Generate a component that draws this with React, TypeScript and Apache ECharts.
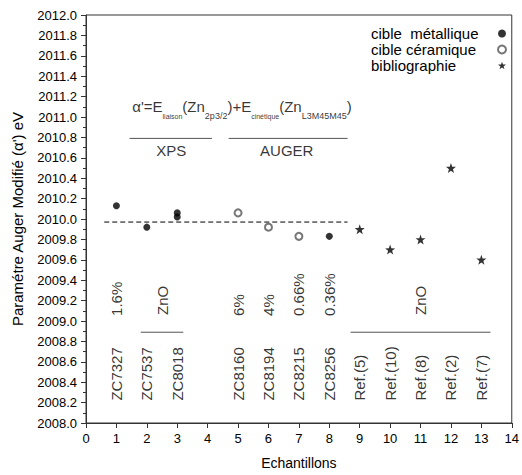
import React, { useEffect, useRef } from "react";
import * as echarts from "echarts";

// ---- data ----
const metalX = [1, 2, 3, 3, 8];
const metalY = [2010.13, 2009.92, 2010.06, 2010.02, 2009.83];
const ceramX = [5, 6, 7];
const ceramY = [2010.06, 2009.92, 2009.83];
const biblioX = [9, 10, 11, 12, 13];
const biblioY = [2009.9, 2009.7, 2009.8, 2010.5, 2009.6];
const meanValue = 2009.97;
const meanRange = [0.6, 8.6];

const sampleNames = ["ZC7327", "ZC7537", "ZC8018", "ZC8160", "ZC8194", "ZC8215", "ZC8256", "Ref.(5)", "Ref.(10)", "Ref.(8)", "Ref.(2)", "Ref.(7)"];
const sampleX = [1, 2, 3, 5, 6, 7, 8, 9, 10, 11, 12, 13];
const percentLabels = ["1.6%", "6%", "4%", "0.66%", "0.36%"];
const percentX = [1, 5, 6, 7, 8];
const groupLabels = ["ZnO", "ZnO"];
const groupX = [2.5, 11];
const groupRanges = [[1.8, 3.2], [8.7, 13.3]];
const methodLabels = ["XPS", "AUGER"];
const methodX = [2.8, 6.6];
const methodRanges = [[1.43, 4.14], [4.69, 8.6]];

const seriesNames = ["cible  métallique", "cible céramique", "bibliographie"];

// ---- layout constants (positions in data units) ----
const X_MIN = 0, X_MAX = 14, X_STEP = 1;
const Y_MIN = 2008, Y_MAX = 2012, Y_STEP = 0.2;
const sampleLabelY = 2008.22;
const percentLabelY = 2009.05;
const groupLabelY = 2009.06;
const groupLineY = 2008.89;
const methodLineY = 2010.79;
const methodLabelY = 2010.67;
const formulaPos = [1.52, 2011.07];

const FONT = "'Liberation Sans', Arial, sans-serif";
const STAR = "path://M0,-10 L2.35,-3.24 9.51,-3.09 3.8,1.24 5.88,8.09 0,4 -5.88,8.09 -3.8,1.24 -9.51,-3.09 -2.35,-3.24Z";

function textSeries(xs: number[], texts: string[], y: number, rotate: number, align: string) {
  return {
    type: "scatter",
    silent: true,
    symbolSize: 0.1,
    itemStyle: { color: "transparent" },
    data: xs.map((x, i) => ({ value: [x, y], label: { formatter: texts[i] } })),
    label: {
      show: true,
      position: "inside",
      rotate,
      align,
      verticalAlign: "middle",
      fontSize: 15,
      fontFamily: FONT,
      color: "#000",
    },
    z: 5,
  };
}

function segSeries(ranges: number[][], y: number) {
  return ranges.map((r) => ({
    type: "line",
    silent: true,
    symbol: "none",
    data: [[r[0], y], [r[1], y]],
    lineStyle: { color: "#555", width: 1 },
  }));
}

export default function App() {
  const ref = useRef<HTMLDivElement>(null);
  useEffect(() => {
    if (!ref.current) return;
    const chart = echarts.init(ref.current, null, { renderer: "svg" });
    const option: any = {
      animation: false,
      textStyle: { fontFamily: FONT },
      grid: { left: 86, right: 6, top: 15, bottom: 52, show: true, borderColor: "#333", borderWidth: 1 },
      legend: {
        data: [
          { name: seriesNames[0] },
          { name: seriesNames[1], itemStyle: { borderWidth: 1 } },
          { name: seriesNames[2] },
        ],
        orient: "vertical",
        right: 10,
        top: 21,
        align: "right",
        itemWidth: 8,
        itemHeight: 8,
        itemGap: 1,
        formatter: (n: string) => "{a|" + n + "}",
        textStyle: {
          fontSize: 15,
          fontFamily: FONT,
          color: "#000",
          rich: { a: { width: 122, align: "left", fontSize: 15, lineHeight: 17, fontFamily: FONT, color: "#000" } },
        },
      },
      xAxis: {
        type: "value",
        min: X_MIN,
        max: X_MAX,
        interval: X_STEP,
        name: "Echantillons",
        nameLocation: "middle",
        nameGap: 33,
        nameTextStyle: { fontSize: 14, color: "#000", fontFamily: FONT },
        axisLine: { lineStyle: { color: "#333" } },
        axisTick: { inside: false, length: 5, lineStyle: { color: "#333" } },
        axisLabel: { fontSize: 13, color: "#000", margin: 9, fontFamily: FONT },
        splitLine: { show: false },
      },
      yAxis: {
        type: "value",
        min: Y_MIN,
        max: Y_MAX,
        interval: Y_STEP,
        name: "Paramétre Auger Modifié (α') eV",
        nameLocation: "middle",
        nameGap: 61,
        nameTextStyle: { fontSize: 15, color: "#000", fontFamily: FONT },
        axisLine: { show: true, lineStyle: { color: "#333" } },
        axisTick: { show: true, inside: false, length: 5, lineStyle: { color: "#333" } },
        minorTick: { show: true, splitNumber: 2, length: 3, lineStyle: { color: "#333" } },
        axisLabel: { fontSize: 13, color: "#000", margin: 9, fontFamily: FONT, formatter: (v: number) => v.toFixed(1) },
        splitLine: { show: false },
      },
      series: [
        {
          name: seriesNames[0],
          type: "scatter",
          symbol: "circle",
          symbolSize: 7,
          itemStyle: { color: "#000" },
          data: metalX.map((x, i) => [x, metalY[i]]),
          z: 10,
        },
        {
          name: seriesNames[1],
          type: "scatter",
          symbol: "emptyCircle",
          symbolSize: 7,
          itemStyle: { color: "#555", borderWidth: 1 },
          data: ceramX.map((x, i) => [x, ceramY[i]]),
          z: 10,
        },
        {
          name: seriesNames[2],
          type: "scatter",
          symbol: STAR,
          symbolSize: 10,
          itemStyle: { color: "#000" },
          data: biblioX.map((x, i) => [x, biblioY[i]]),
          z: 10,
        },
        {
          type: "line",
          silent: true,
          symbol: "none",
          data: [[meanRange[0], meanValue], [meanRange[1], meanValue]],
          lineStyle: { color: "#000", width: 1, type: [5, 3] },
        },
        ...segSeries(groupRanges, groupLineY),
        ...segSeries(methodRanges, methodLineY),
        textSeries(sampleX, sampleNames, sampleLabelY, 90, "left"),
        textSeries(percentX, percentLabels, percentLabelY, 90, "left"),
        textSeries(groupX, groupLabels, groupLabelY, 90, "left"),
        textSeries(methodX, methodLabels, methodLabelY, 0, "center"),
        {
          type: "scatter",
          silent: true,
          symbolSize: 0.1,
          itemStyle: { color: "transparent" },
          data: [
            {
              value: formulaPos,
              label: {
                formatter:
                  "{m|α'=E}{s|liaison}{m|(Zn}{t|2p3/2}{m|)+E}{s|cinétique}{m|(Zn}{t|L3M45M45}{m|)}{sp| }",
              },
            },
          ],
          label: {
            show: true,
            position: "inside",
            align: "left",
            verticalAlign: "middle",
            color: "#000",
            rich: {
              m: { fontSize: 15, lineHeight: 16, verticalAlign: "top", fontFamily: FONT, color: "#000" },
              s: { fontSize: 7, lineHeight: 8, verticalAlign: "bottom", fontFamily: FONT, color: "#000" },
              t: { fontSize: 9, lineHeight: 10, verticalAlign: "bottom", fontFamily: FONT, color: "#000" },
              sp: { fontSize: 1, lineHeight: 21, fontFamily: FONT },
            },
          },
        },
      ],
    };
    chart.setOption(option);
    return () => chart.dispose();
  }, []);
  return <div ref={ref} style={{ position: "absolute", left: 0, top: 0, width: 522, height: 475 }} />;
}
